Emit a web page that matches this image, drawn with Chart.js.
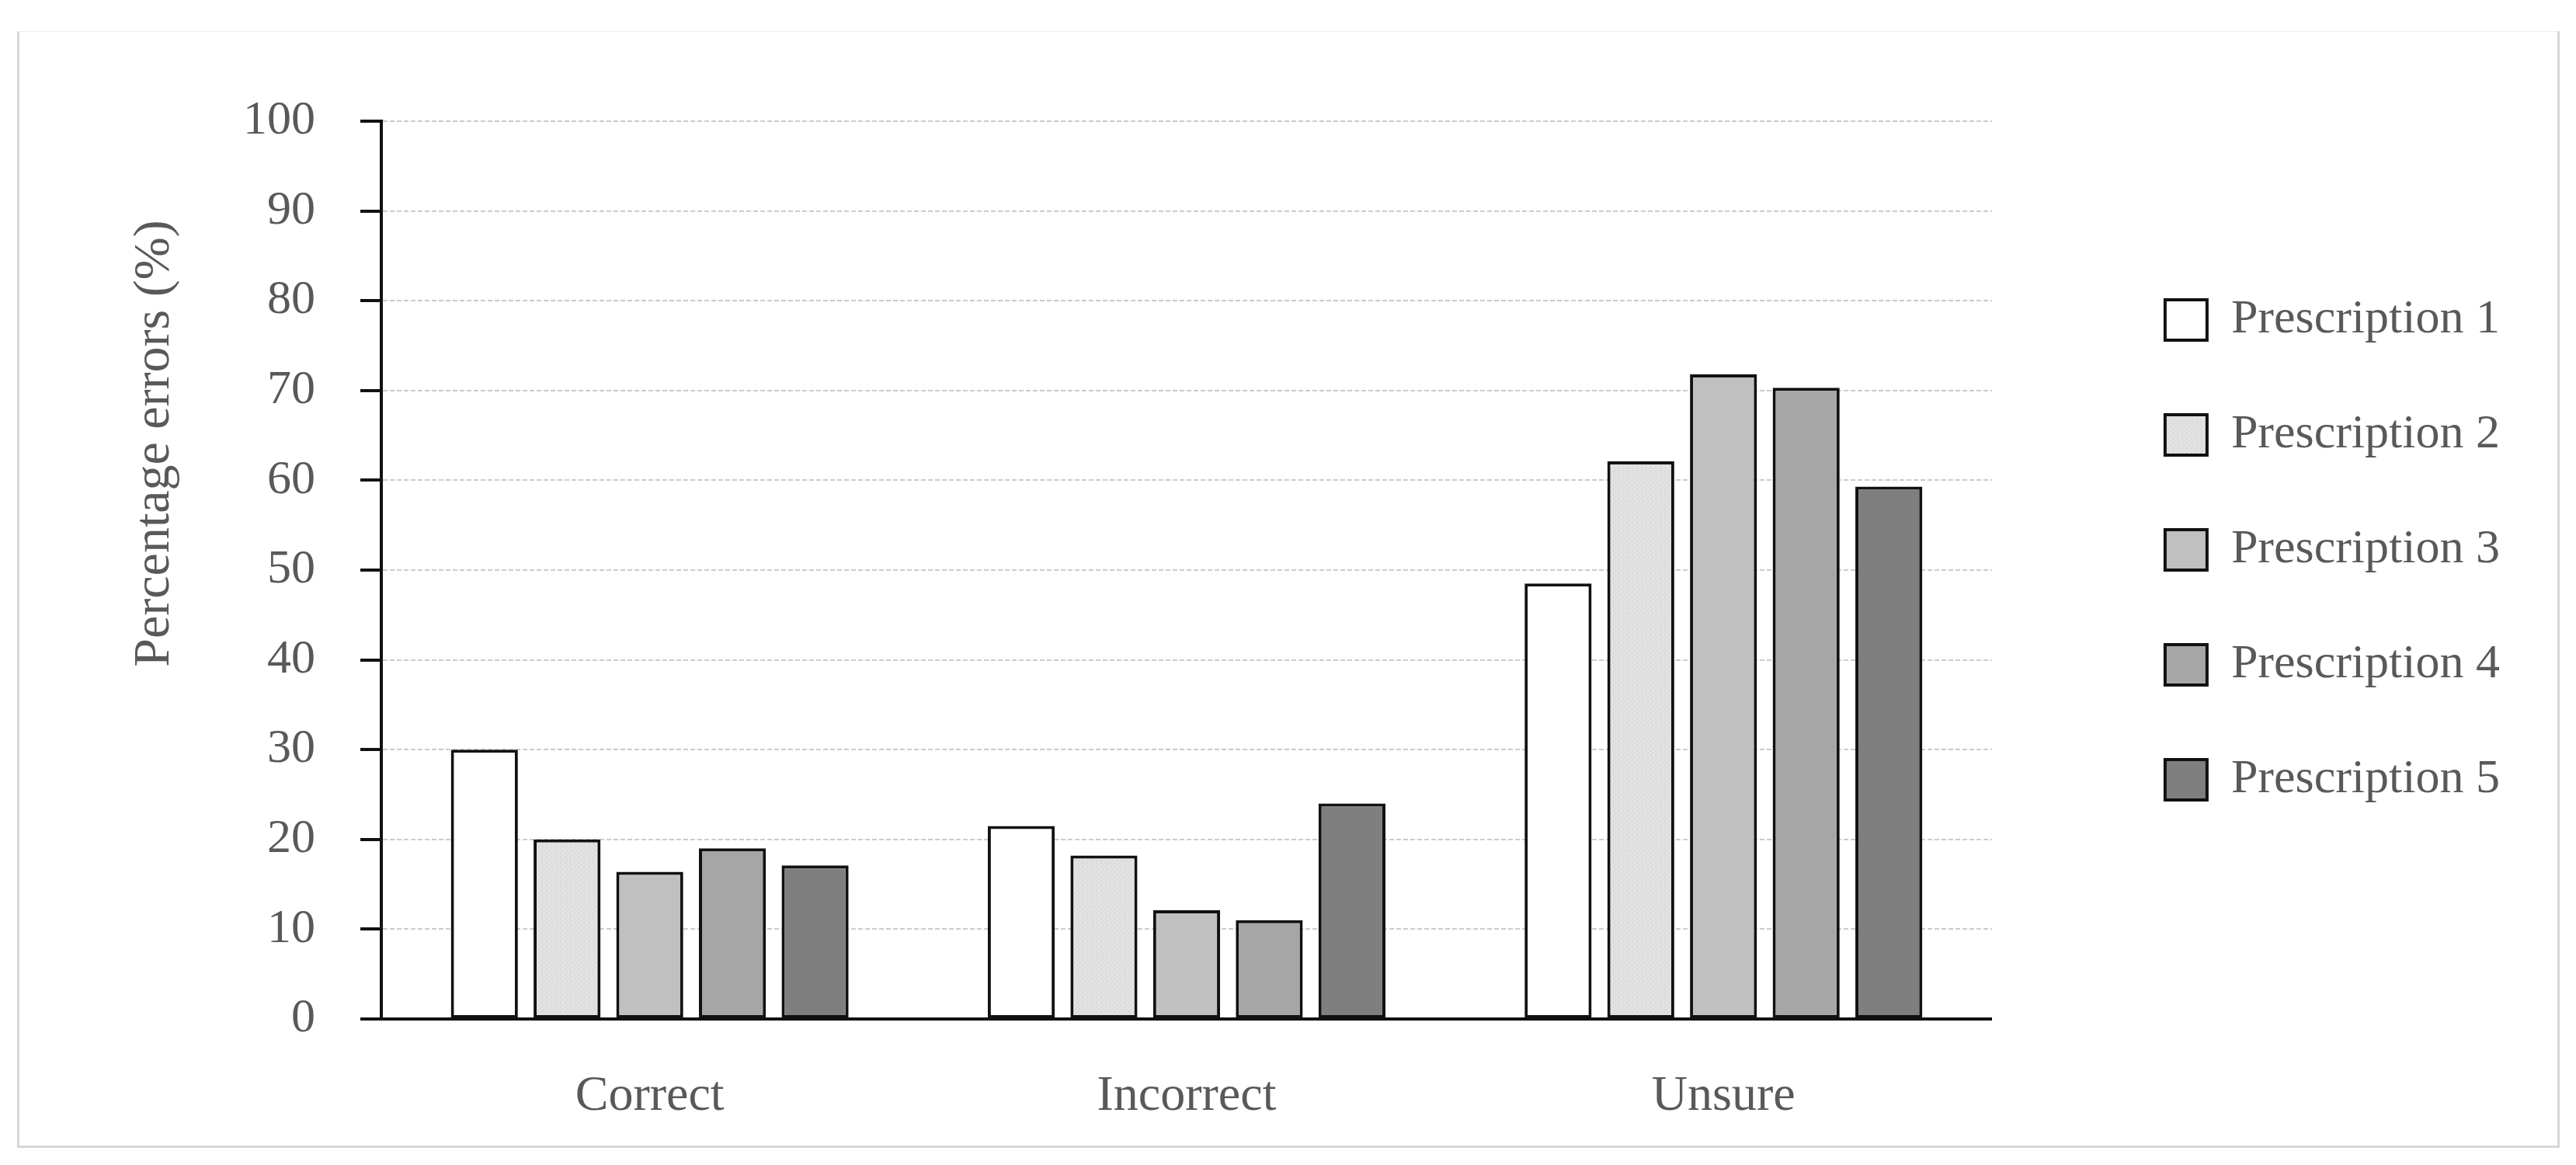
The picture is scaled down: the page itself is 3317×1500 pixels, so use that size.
<!DOCTYPE html>
<html>
<head>
<meta charset="utf-8">
<script src="https://cdn.jsdelivr.net/npm/chart.js@4.4.1/dist/chart.umd.min.js"></script>
<style>
  html, body { margin: 0; padding: 0; background: #fff; }
  #wrap { position: relative; width: 3317px; height: 1500px; }
  #frame {
    position: absolute; left: 22px; top: 40px; width: 3268px; height: 1434px;
    border: 3px solid #d6d6d6; border-top: 1px solid #f0f0f0; pointer-events: none;
  }
  canvas { position: absolute; left: 0; top: 0; }
</style>
</head>
<body>
<div id="wrap">
  <canvas id="chart" width="3317" height="1500"></canvas>
  <div id="frame"></div>
</div>
<script>
var categories = ['Correct', 'Incorrect', 'Unsure'];
var seriesNames = ['Prescription 1', 'Prescription 2', 'Prescription 3', 'Prescription 4', 'Prescription 5'];

var prescription1 = [30, 21.5, 48.5];
var prescription2 = [20, 18.2, 62.1];
var prescription3 = [16.4, 12.1, 71.8];
var prescription4 = [19, 11, 70.3];
var prescription5 = [17.1, 24, 59.3];

var yMin = 0;
var yMax = 100;
var yStep = 10;
var yTitle = 'Percentage errors (%)';

var textColor = '#595959';
var fontFamily = "'Liberation Serif', 'DejaVu Serif', serif";

// light dotted fill for prescription 2
function dotPattern() {
    var c = document.createElement('canvas');
    c.width = 6;
    c.height = 6;
    var g = c.getContext('2d');
    g.fillStyle = '#e2e2e2';
    g.fillRect(0, 0, 6, 6);
    g.fillStyle = '#c6c6c6';
    g.fillRect(1, 1, 1, 1);
    g.fillRect(4, 3, 1, 1);
    g.fillRect(2, 5, 1, 1);
    return g.createPattern(c, 'repeat');
}

var fills = ['#ffffff', dotPattern(), '#c0c0c0', '#a6a6a6', '#7f7f7f'];
var values = [prescription1, prescription2, prescription3, prescription4, prescription5];

var datasets = seriesNames.map(function (name, i) {
    return {
        label: name,
        data: values[i],
        backgroundColor: fills[i],
        borderColor: '#111111',
        borderWidth: 4,
        borderSkipped: false,
        categoryPercentage: 0.77,
        barPercentage: 0.81
    };
});

// y title sits above the axis middle in the original, so it is placed by hand
var yTitlePlugin = {
    id: 'yTitle',
    afterDraw: function (chart) {
        var ctx = chart.ctx;
        ctx.save();
        ctx.translate(200, 571);
        ctx.rotate(-Math.PI / 2);
        ctx.font = '66px ' + fontFamily;
        ctx.fillStyle = textColor;
        ctx.textAlign = 'center';
        ctx.textBaseline = 'middle';
        ctx.fillText(yTitle, 0, 0);
        ctx.restore();
    }
};

var legendShift = {
    id: 'legendShift',
    afterLayout: function (chart) {
        chart.legend.top -= 26;
        chart.legend.bottom -= 26;
    }
};

var ctx = document.getElementById('chart').getContext('2d');
new Chart(ctx, {
    type: 'bar',
    data: {
        labels: categories,
        datasets: datasets
    },
    options: {
        responsive: false,
        animation: false,
        devicePixelRatio: 1,
        layout: { padding: { left: 313, top: 156, right: 88, bottom: 52 } },
        plugins: {
            tooltip: { enabled: false },
            legend: {
                position: 'right',
                fullSize: false,
                align: 'center',
                maxWidth: 700,
                labels: {
                    boxWidth: 54,
                    boxHeight: 52,
                    padding: 86,
                    color: textColor,
                    font: { family: fontFamily, size: 62 }
                }
            }
        },
        scales: {
            x: {
                grid: { display: true, drawOnChartArea: false, drawTicks: false },
                border: { display: true, color: '#111111', width: 4 },
                ticks: { color: textColor, padding: 62, font: { family: fontFamily, size: 64 } },
                afterFit: function (s) { s.height = 136; }
            },
            y: {
                min: yMin,
                max: yMax,
                ticks: { stepSize: yStep, color: textColor, padding: 58, font: { family: fontFamily, size: 62 } },
                grid: {
                    color: function (c) { return c.tick && c.tick.value === 0 ? 'rgba(0,0,0,0)' : '#cccccc'; },
                    lineWidth: 2,
                    tickLength: 27,
                    tickColor: '#111111',
                    tickWidth: 4
                },
                border: { display: true, color: '#111111', width: 4, dash: [6, 3] },
                afterFit: function (s) { s.width = 178; }
            },
            spacer: {
                type: 'linear',
                position: 'right',
                display: true,
                grid: { display: false, drawTicks: false },
                border: { display: false },
                ticks: { display: false },
                afterFit: function (s) { s.width = 137; }
            }
        }
    },
    plugins: [yTitlePlugin, legendShift]
});
</script>
</body>
</html>
